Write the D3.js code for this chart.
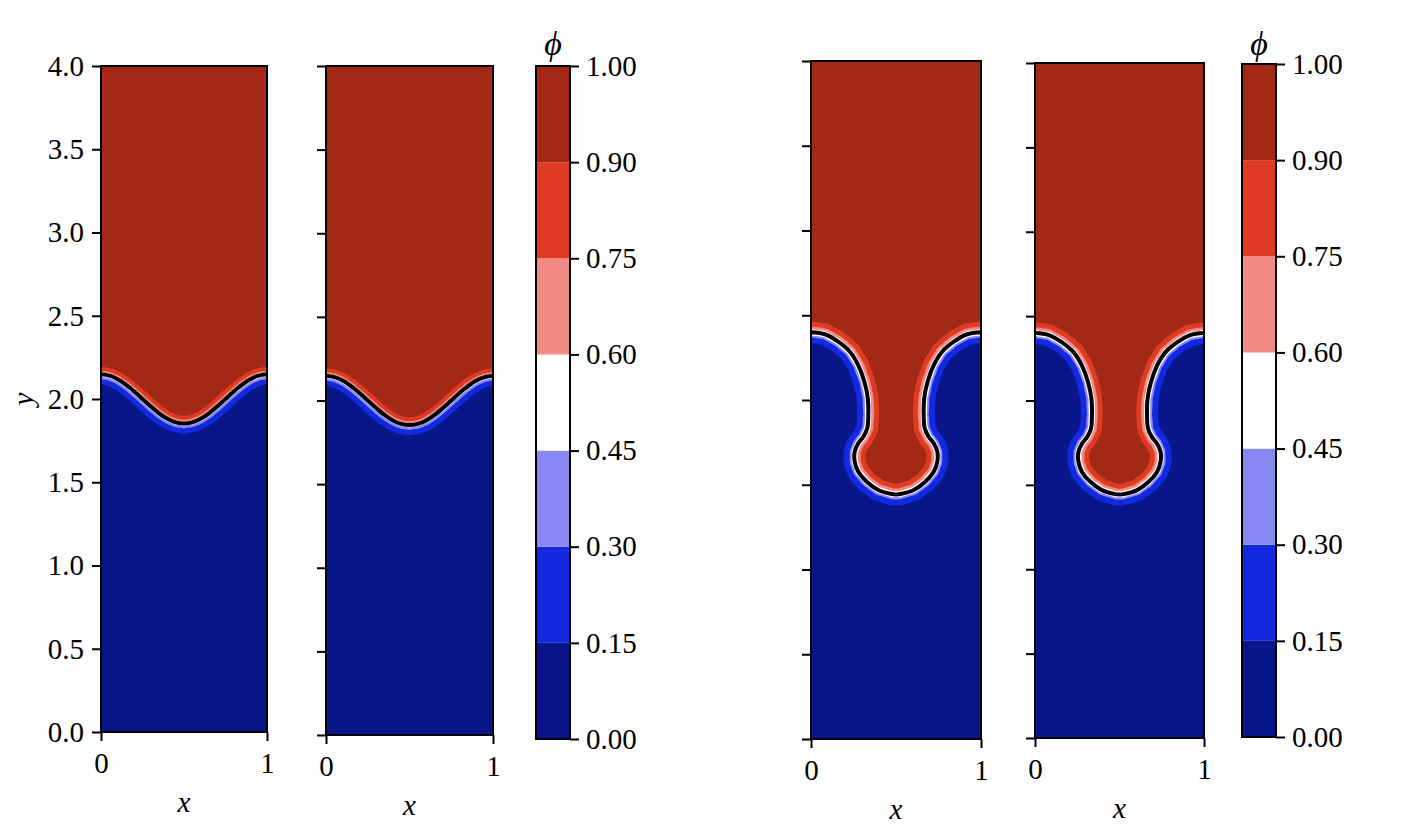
<!DOCTYPE html>
<html>
<head>
<meta charset="utf-8">
<script src="https://cdn.jsdelivr.net/npm/d3@7"></script>
<style>
body { margin: 0; background: #fff; }
</style>
</head>
<body>
<script>
var width = 1420, height = 830;
var serif = "'Liberation Serif', 'DejaVu Serif', serif";

// contour levels of phi and the colour of each band between them
var levels = [0, 0.15, 0.30, 0.45, 0.60, 0.75, 0.90, 1.00];
var levelColors = ["#08168a", "#1229df", "#8888f5", "#ffffff", "#f28a85", "#df3b22", "#a42816"];
var yTicks = [0, 0.5, 1.0, 1.5, 2.0, 2.5, 3.0, 3.5, 4.0];
var xTicks = [0, 1];

// phi = 0.5 interface, early time (left pair)
var earlyX = [0, 0.05, 0.10, 0.15, 0.20, 0.25, 0.30, 0.35, 0.40, 0.45, 0.50,
    0.55, 0.60, 0.65, 0.70, 0.75, 0.80, 0.85, 0.90, 0.95, 1.00];
var earlyY = [2.148, 2.140, 2.119, 2.086, 2.045, 2.000, 1.955, 1.914, 1.881, 1.860, 1.853,
    1.860, 1.881, 1.914, 1.955, 2.000, 2.045, 2.086, 2.119, 2.140, 2.148];

// phi = 0.5 interface, late time (right pair, mushroom)
var lateX = [0, 0.082, 0.160, 0.229, 0.278, 0.314, 0.334, 0.337, 0.331, 0.308, 0.278, 0.257,
    0.257, 0.278, 0.328, 0.396, 0.475, 0.500, 0.525, 0.604, 0.672, 0.722, 0.743, 0.743,
    0.722, 0.692, 0.669, 0.663, 0.666, 0.686, 0.722, 0.771, 0.840, 0.918, 1.000];
var lateY = [2.400, 2.388, 2.344, 2.285, 2.206, 2.108, 2.010, 1.912, 1.833, 1.783, 1.745, 1.695,
    1.636, 1.577, 1.518, 1.469, 1.445, 1.443, 1.445, 1.469, 1.518, 1.577, 1.636, 1.695,
    1.745, 1.783, 1.833, 1.912, 2.010, 2.108, 2.206, 2.285, 2.344, 2.388, 2.400];

// signed distance from the interface where phi reaches 0.15 ... 0.90
var earlyEdges = [-0.060, -0.028, -0.015, 0.012, 0.021, 0.044];
var lateEdges = [-0.065, -0.029, -0.019, 0.019, 0.034, 0.063];

var nx = 200, ny = 800;

var svg = d3.select("body").append("svg")
    .attr("width", width)
    .attr("height", height);

function segDist(px, py, ax, ay, bx, by) {
    var dx = bx - ax, dy = by - ay;
    var t = ((px - ax) * dx + (py - ay) * dy) / (dx * dx + dy * dy);
    t = Math.max(0, Math.min(1, t));
    var ex = ax + t * dx - px, ey = ay + t * dy - py;
    return Math.sqrt(ex * ex + ey * ey);
}

function buildField(xs, ys, edges) {
    var pts = xs.map(function(d, i) { return [d, ys[i]]; });
    var heavy = pts.concat([[1, 4.5], [0, 4.5]]);
    var profile = d3.scaleLinear()
        .domain([edges[0] - 0.04].concat(edges, [edges[edges.length - 1] + 0.04]))
        .range(levels)
        .clamp(true);
    var values = new Float64Array(nx * ny);
    for (var j = 0; j < ny; j++) {
        var py = 4 - (j + 0.5) / ny * 4;
        for (var i = 0; i < nx; i++) {
            var px = (i + 0.5) / nx;
            var best = Infinity;
            for (var k = 0; k < pts.length - 1; k++) {
                var dd = segDist(px, py, pts[k][0], pts[k][1], pts[k + 1][0], pts[k + 1][1]);
                if (dd < best) best = dd;
            }
            var sign = d3.polygonContains(heavy, [px, py]) ? 1 : -1;
            values[j * nx + i] = profile(sign * best);
        }
    }
    return {points: pts, values: values};
}

var early = buildField(earlyX, earlyY, earlyEdges);
var late = buildField(lateX, lateY, lateEdges);

var panels = [
    {x0: 101, x1: 267, y0: 66, y1: 732, field: early, labels: true},
    {x0: 326, x1: 493, y0: 66, y1: 735, field: early},
    {x0: 811, x1: 981, y0: 61, y1: 739, field: late},
    {x0: 1035, x1: 1204, y0: 63, y1: 738, field: late}
];

var colorbars = [
    {x0: 536, x1: 570, y0: 66, y1: 739},
    {x0: 1242, x1: 1276, y0: 64, y1: 737}
];

function styleAxis(g) {
    g.select(".domain").remove();
    g.selectAll(".tick line").attr("stroke", "#000").attr("stroke-width", 2);
    g.attr("font-family", serif).attr("font-size", 29);
    g.selectAll(".tick text").attr("fill", "#000");
}

panels.forEach(function(p, k) {
    var x = d3.scaleLinear().domain([0, 1]).range([p.x0, p.x1]);
    var y = d3.scaleLinear().domain([0, 4]).range([p.y1, p.y0]);

    svg.append("clipPath")
        .attr("id", "clip" + k)
      .append("rect")
        .attr("x", p.x0)
        .attr("y", p.y0)
        .attr("width", p.x1 - p.x0)
        .attr("height", p.y1 - p.y0);

    var body = svg.append("g").attr("clip-path", "url(#clip" + k + ")");

    body.append("rect")
        .attr("x", p.x0)
        .attr("y", p.y0)
        .attr("width", p.x1 - p.x0)
        .attr("height", p.y1 - p.y0)
        .attr("fill", levelColors[0]);

    var contours = d3.contours()
        .size([nx, ny])
        .thresholds(levels.slice(1, -1))(p.field.values);

    var path = d3.geoPath(d3.geoTransform({
        point: function(gx, gy) {
            this.stream.point(x(gx / nx), y(4 - gy / ny * 4));
        }
    }));

    body.selectAll(".band")
        .data(contours)
        .enter().append("path")
        .attr("class", "band")
        .attr("d", path)
        .attr("fill", function(c) { return levelColors[levels.indexOf(c.value)]; });

    body.append("path")
        .datum(p.field.points)
        .attr("d", d3.line()
            .x(function(d) { return x(d[0]); })
            .y(function(d) { return y(d[1]); })
            .curve(d3.curveCatmullRom))
        .attr("fill", "none")
        .attr("stroke", "#000")
        .attr("stroke-width", 4)
        .attr("stroke-linejoin", "round");

    svg.append("rect")
        .attr("x", p.x0)
        .attr("y", p.y0)
        .attr("width", p.x1 - p.x0)
        .attr("height", p.y1 - p.y0)
        .attr("fill", "none")
        .attr("stroke", "#000")
        .attr("stroke-width", 2);

    var yAxis = d3.axisLeft(y)
        .tickValues(yTicks)
        .tickSize(9)
        .tickPadding(8)
        .tickFormat(p.labels ? d3.format(".1f") : function() { return ""; });
    svg.append("g")
        .attr("transform", "translate(" + p.x0 + ",0)")
        .call(yAxis)
        .call(styleAxis);

    var xAxis = d3.axisBottom(x)
        .tickValues(xTicks)
        .tickSize(9)
        .tickFormat(d3.format("d"));
    var xg = svg.append("g")
        .attr("transform", "translate(0," + p.y1 + ")")
        .call(xAxis)
        .call(styleAxis);
    xg.selectAll(".tick text").attr("y", 31).attr("dy", "0.35em");

    svg.append("text")
        .attr("x", (p.x0 + p.x1) / 2)
        .attr("y", p.y1 + 70)
        .attr("dy", "0.35em")
        .attr("text-anchor", "middle")
        .attr("font-family", serif)
        .attr("font-style", "italic")
        .attr("font-size", 29)
        .text("x");

    if (p.labels) {
        svg.append("text")
            .attr("transform", "translate(23," + (p.y0 + p.y1) / 2 + ") rotate(-90)")
            .attr("dy", "0.35em")
            .attr("text-anchor", "middle")
            .attr("font-family", serif)
            .attr("font-style", "italic")
            .attr("font-size", 29)
            .text("y");
    }
});

colorbars.forEach(function(cb) {
    var step = (cb.y1 - cb.y0) / (levels.length - 1);
    var cy = d3.scaleLinear()
        .domain(levels)
        .range(levels.map(function(d, i) { return cb.y1 - i * step; }));

    svg.selectAll(null)
        .data(levelColors)
        .enter().append("rect")
        .attr("x", cb.x0)
        .attr("y", function(d, i) { return cy(levels[i + 1]); })
        .attr("width", cb.x1 - cb.x0)
        .attr("height", function(d, i) { return cy(levels[i]) - cy(levels[i + 1]); })
        .attr("fill", function(d) { return d; });

    svg.append("rect")
        .attr("x", cb.x0)
        .attr("y", cb.y0)
        .attr("width", cb.x1 - cb.x0)
        .attr("height", cb.y1 - cb.y0)
        .attr("fill", "none")
        .attr("stroke", "#000")
        .attr("stroke-width", 2);

    svg.append("g")
        .attr("transform", "translate(" + cb.x1 + ",0)")
        .call(d3.axisRight(cy)
            .tickValues(levels)
            .tickSize(9)
            .tickPadding(7)
            .tickFormat(d3.format(".2f")))
        .call(styleAxis);

    svg.append("text")
        .attr("x", (cb.x0 + cb.x1) / 2)
        .attr("y", 43)
        .attr("dy", "0.35em")
        .attr("text-anchor", "middle")
        .attr("font-family", serif)
        .attr("font-style", "italic")
        .attr("font-size", 34)
        .text("\u03d5");
});
</script>
</body>
</html>
